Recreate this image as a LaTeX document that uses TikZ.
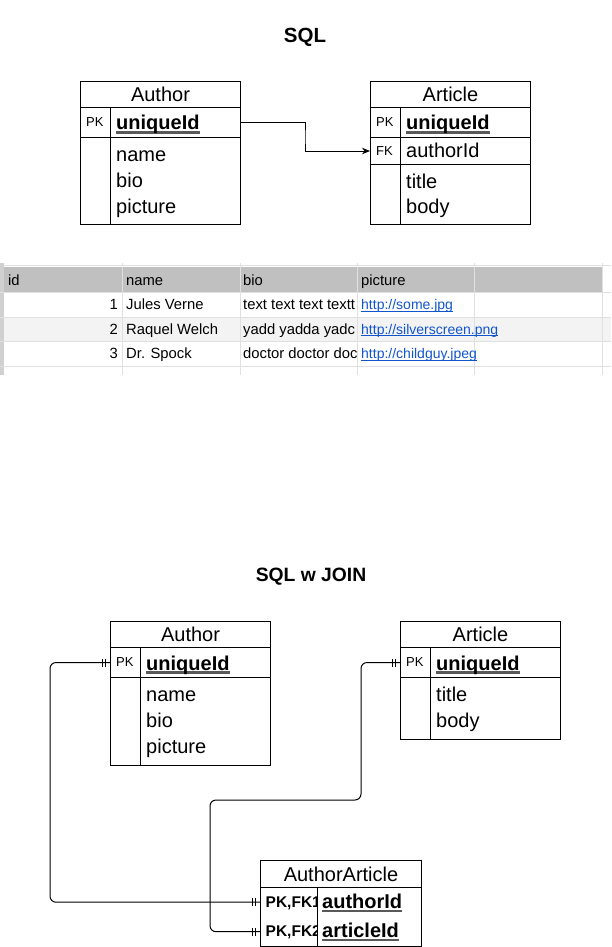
\documentclass[tikz,border=0pt]{standalone}
\usepackage{fontspec}
\setmainfont{Liberation Sans}
\usetikzlibrary{arrows.meta}
\definecolor{hdrgray}{HTML}{C0C0C0}
\definecolor{rowgray}{HTML}{F3F3F3}
\definecolor{gridgray}{HTML}{E0E0E0}
\definecolor{stripgray}{HTML}{D0D0D0}
\definecolor{linkblue}{HTML}{1155CC}
\newcommand\fs[1]{\fontsize{#1}{#1}\selectfont}
\newcommand\pkul[1]{\setbox0\hbox{#1}\rlap{\color{black!65}\rule[-3.6pt]{\wd0}{2.3pt}}\box0}
\newcommand\lnk[1]{\setbox0\hbox{#1}\rlap{\rule[-1.8pt]{\wd0}{0.8pt}}\box0}
\newcommand\ticks[1]{\draw[line width=0.8pt] ([xshift=-5pt,yshift=-4pt]#1) -- ([xshift=-5pt,yshift=4pt]#1) ([xshift=-7.5pt,yshift=-4pt]#1) -- ([xshift=-7.5pt,yshift=4pt]#1);}
\begin{document}
\begin{tikzpicture}[x=1pt,y=-1pt,
  box/.style={draw, line width=1pt, inner sep=0pt, anchor=north west, minimum width=160},
  hdr/.style={box, minimum height=26, font=\fs{20}},
  fld/.style={anchor=base west, inner sep=0pt, font=\fs{20}},
  pkfld/.style={anchor=base west, inner sep=0pt, font=\fs{20}\bfseries},
  key/.style={anchor=base west, inner sep=0pt, font=\fs{13}},
  bkey/.style={anchor=base west, inner sep=0pt, font=\fs{15.5}\bfseries},
  conn/.style={line width=1pt},
  ttl/.style={font=\fs{20.5}\bfseries, inner sep=0pt},
  sh/.style={anchor=base west, inner sep=0pt, font=\fs{14.8}, text=black},
  shn/.style={anchor=base east, inner sep=0pt, font=\fs{14.8}, text=black},
  shl/.style={anchor=base west, inner sep=0pt, font=\fs{14}, text=linkblue}
]
\useasboundingbox (0,0) rectangle (611,947);

% ---------- SQL ----------
\node[ttl] (t1) at (305,37) {SQL};

% Author (top)
\node[hdr] (a1h) at (80,81) {Author};
\node[box, minimum height=30] (a1pk) at (80,107) {};
\node[box, minimum height=87] (a1b) at (80,137) {};
\draw[line width=1pt] ([xshift=30pt]a1pk.north west) -- ([xshift=30pt]a1b.south west);
\node[key] (a1k) at (86,126) {PK};
\node[pkfld] (a1id) at (116,130) {\pkul{uniqueId}};
\node[fld] (a1f1) at (116,161.5) {name};
\node[fld] (a1f2) at (116,187.5) {bio};
\node[fld] (a1f3) at (116,213) {picture};

% Article (top)
\node[hdr] (b1h) at (370,81) {Article};
\node[box, minimum height=30] (b1pk) at (370,107) {};
\node[box, minimum height=27] (b1fk) at (370,137) {};
\node[box, minimum height=60] (b1b) at (370,164) {};
\draw[line width=1pt] ([xshift=30pt]b1pk.north west) -- ([xshift=30pt]b1b.south west);
\node[key] (b1k) at (376,126) {PK};
\node[pkfld] (b1id) at (406,130) {\pkul{uniqueId}};
\node[key] (b1fkk) at (376,155.5) {FK};
\node[fld] (b1fkf) at (406,157.5) {authorId};
\node[fld] (b1f1) at (406,188.3) {title};
\node[fld] (b1f2) at (406,213) {body};

\coordinate (m1) at (305,137);
\draw[conn, -{Stealth[length=8pt,width=6.5pt]}] (a1pk.east) -| (m1) |- (b1fk.west);

% ---------- spreadsheet ----------
\fill[hdrgray] (4,267) rectangle (602,292);
\fill[rowgray] (4,317) rectangle (611,341);
\fill[stripgray] (0,263) rectangle (3.5,375);
\draw[gridgray, line width=0.8pt] (4,265.5) -- (611,265.5);
\foreach \y in {292,317,341,366} \draw[gridgray, line width=1pt] (0,\y) -- (611,\y);
\foreach \x in {122,240,357,474,602} \draw[gridgray, line width=1pt] (\x,263) -- (\x,375);

\node[sh] (h1) at (8,285.5) {id};
\node[sh] (h2) at (126,285.5) {name};
\node[sh] (h3) at (243,285.5) {bio};
\node[sh] (h4) at (361,285.5) {picture};

\node[shn] (r1a) at (118,309.5) {1};
\node[shn] (r2a) at (118,334) {2};
\node[shn] (r3a) at (118,358.5) {3};
\node[sh] (r1b) at (126,309.5) {Jules Verne};
\node[sh] (r2b) at (126,334) {Raquel Welch};
\node[sh] (r3b) at (126,358.5) {Dr. Spock};
\begin{scope}
\clip (241,293) rectangle (356.5,366);
\node[sh] (r1c) at (243,309.5) {text text text textt};
\node[sh] (r2c) at (243,334) {yadd yadda yadc};
\node[sh] (r3c) at (243,358.5) {doctor doctor doc};
\end{scope}
\node[shl] (r1d) at (361,309.5) {\lnk{http://some.jpg}};
\node[shl] (r2d) at (361,334) {\lnk{http://silverscreen.png}};
\node[shl] (r3d) at (361,358.5) {\lnk{http://childguy.jpeg}};

% ---------- SQL w JOIN ----------
\node[ttl, font=\fs{19.3}\bfseries] (t2) at (311,577) {SQL w JOIN};

% Author (bottom)
\node[hdr] (a2h) at (110,621) {Author};
\node[box, minimum height=30] (a2pk) at (110,647) {};
\node[box, minimum height=88] (a2b) at (110,677) {};
\draw[line width=1pt] ([xshift=30pt]a2pk.north west) -- ([xshift=30pt]a2b.south west);
\node[key] (a2k) at (116,666) {PK};
\node[pkfld] (a2id) at (146,670) {\pkul{uniqueId}};
\node[fld] (a2f1) at (146,701.5) {name};
\node[fld] (a2f2) at (146,727.5) {bio};
\node[fld] (a2f3) at (146,753) {picture};

% Article (bottom)
\node[hdr] (b2h) at (400,621) {Article};
\node[box, minimum height=30] (b2pk) at (400,647) {};
\node[box, minimum height=62] (b2b) at (400,677) {};
\draw[line width=1pt] ([xshift=30pt]b2pk.north west) -- ([xshift=30pt]b2b.south west);
\node[key] (b2k) at (406,666) {PK};
\node[pkfld] (b2id) at (436,670) {\pkul{uniqueId}};
\node[fld] (b2f1) at (436,701.5) {title};
\node[fld] (b2f2) at (436,727.5) {body};

% AuthorArticle
\node[hdr, minimum width=161, minimum height=27] (c2h) at (260,860) {AuthorArticle};
\node[box, minimum width=161, minimum height=59] (c2b) at (260,887) {};
\node[anchor=north west, inner sep=0pt, minimum width=161, minimum height=30] (c2r1) at (260,887) {};
\node[anchor=north west, inner sep=0pt, minimum width=161, minimum height=29] (c2r2) at (260,917) {};
\draw[line width=1pt] (317,887) -- (c2b.south west -| 317,0);
\begin{scope}
\clip (261,888) rectangle (316.5,945);
\node[bkey] (c2k1) at (265.5,907.5) {PK,FK1};
\node[bkey] (c2k2) at (265.5,936.5) {PK,FK2};
\end{scope}
\node[pkfld] (c2f1) at (322,908.3) {\pkul{authorId}};
\node[pkfld] (c2f2) at (322,937.3) {\pkul{articleId}};

% connectors
\coordinate (j1) at (50,780);
\draw[conn, rounded corners=6pt] (a2pk.west) -| (j1) |- (c2r1.west);
\coordinate (j2) at (361,800);
\coordinate (j3) at (210,800);
\draw[conn, rounded corners=6pt] (b2pk.west) -| (j2) -- (j3) |- (c2r2.west);
\ticks{a2pk.west}
\ticks{b2pk.west}
\ticks{c2r1.west}
\ticks{c2r2.west}
\end{tikzpicture}
\end{document}
